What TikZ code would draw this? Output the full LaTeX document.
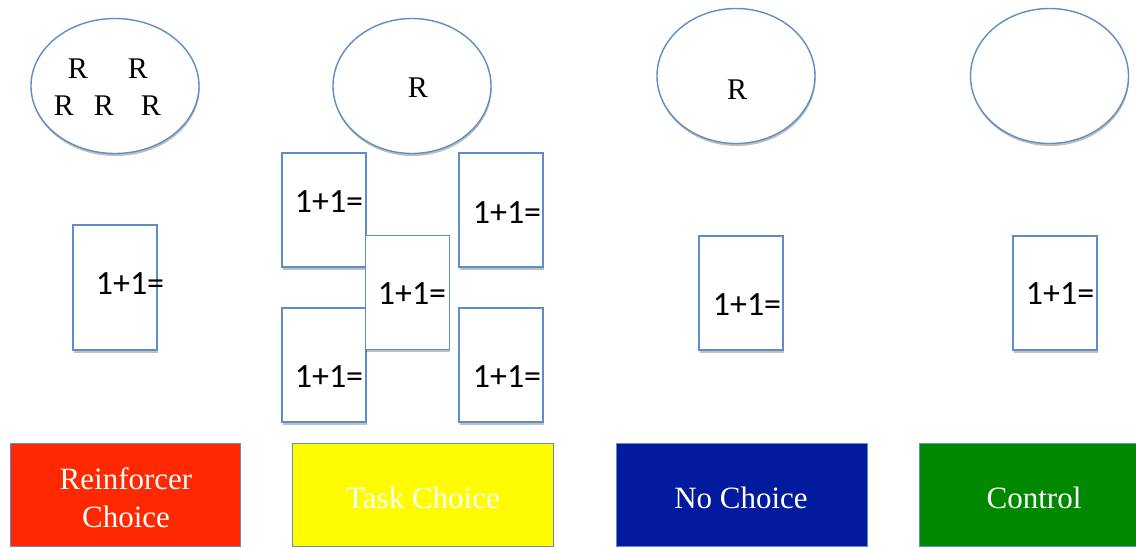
\documentclass[tikz,border=0pt]{standalone}
\usepackage{fontspec}
\setmainfont{Liberation Serif}
\newfontfamily\calib{Carlito}
\usetikzlibrary{shapes.geometric,shadows}
\definecolor{edgeblue}{RGB}{95,142,198}
\definecolor{redbox}{RGB}{255,40,0}
\definecolor{yellowbox}{RGB}{255,252,0}
\definecolor{bluebox}{RGB}{2,26,158}
\definecolor{greenbox}{RGB}{0,136,0}
\tikzset{
  softshadow/.style={drop shadow={shadow xshift=0.6pt,shadow yshift=-2.5pt,opacity=0.25,fill=black}},
  oval/.style={ellipse,draw=edgeblue,line width=1.4pt,fill=white,inner sep=0pt,softshadow},
  card/.style={rectangle,draw=edgeblue,line width=1.4pt,fill=white,inner sep=0pt,
    minimum width=84pt,minimum height=114pt,softshadow},
  sum/.style={font=\calib\fontsize{34}{38}\selectfont,inner sep=0pt},
  rlet/.style={font=\fontsize{30}{34}\selectfont,inner sep=0pt},
  group/.style={rectangle,draw=edgeblue,line width=0.9pt,inner sep=0pt,minimum height=103pt},
  glabel/.style={font=\fontsize{31}{36}\selectfont,text=white,inner sep=0pt,anchor=base},
}
\begin{document}
\begin{tikzpicture}[x=1pt,y=-1pt]
\useasboundingbox (0,0) rectangle (1136,547);
% ellipses
\node[oval,minimum width=168pt,minimum height=135pt] (e1) at (115,86) {};
\node[oval,minimum width=158pt,minimum height=135pt] (e2) at (412,86) {};
\node[oval,minimum width=158pt,minimum height=135pt] (e3) at (736,76) {};
\node[oval,minimum width=158pt,minimum height=135pt] (e4) at (1049.5,76) {};
% R letters
\node[rlet] (r1) at (78,69) {R};
\node[rlet] (r2) at (138,69) {R};
\node[rlet] (r3) at (64,106) {R};
\node[rlet] (r4) at (104,106) {R};
\node[rlet] (r5) at (151,106) {R};
\node[rlet] (r6) at (418,88) {R};
\node[rlet] (r7) at (737,90) {R};
% cards
\node[card,minimum height=125pt] (c1) at (115,287.5) {};
\node[card] (c2) at (324,210) {};
\node[card] (c3) at (501,210) {};
\node[card] (c4) at (324,365) {};
\node[card] (c5) at (501,365) {};
\node[card] (c6) at (407.5,292.5) {};
\node[card] (c7) at (741,293) {};
\node[card] (c8) at (1055,293) {};
% card texts
\node[sum] (s1) at (130,284) {1+1=};
\node[sum] (s2) at (329,202) {1+1=};
\node[sum] (s3) at (507,213) {1+1=};
\node[sum] (s4) at (329,377) {1+1=};
\node[sum] (s5) at (507,377) {1+1=};
\node[sum] (s6) at (412,294) {1+1=};
\node[sum] (s7) at (747,305) {1+1=};
\node[sum] (s8) at (1060,294) {1+1=};
% group boxes
\node[group,fill=redbox,minimum width=230pt] (g1) at (125,494.5) {};
\node[group,fill=yellowbox,minimum width=261pt] (g2) at (422.5,494.5) {};
\node[group,fill=bluebox,minimum width=251pt] (g3) at (741.5,494.5) {};
\node[group,fill=greenbox,minimum width=240pt] (g4) at (1039,494.5) {};
\node[glabel] (l1a) at (126,489) {Reinforcer};
\node[glabel] (l1b) at (126,527) {Choice};
\node[glabel] (l2) at (423,508) {Task Choice};
\node[glabel] (l3) at (741,508) {No Choice};
\node[glabel] (l4) at (1034,508) {Control};
\end{tikzpicture}
\end{document}
